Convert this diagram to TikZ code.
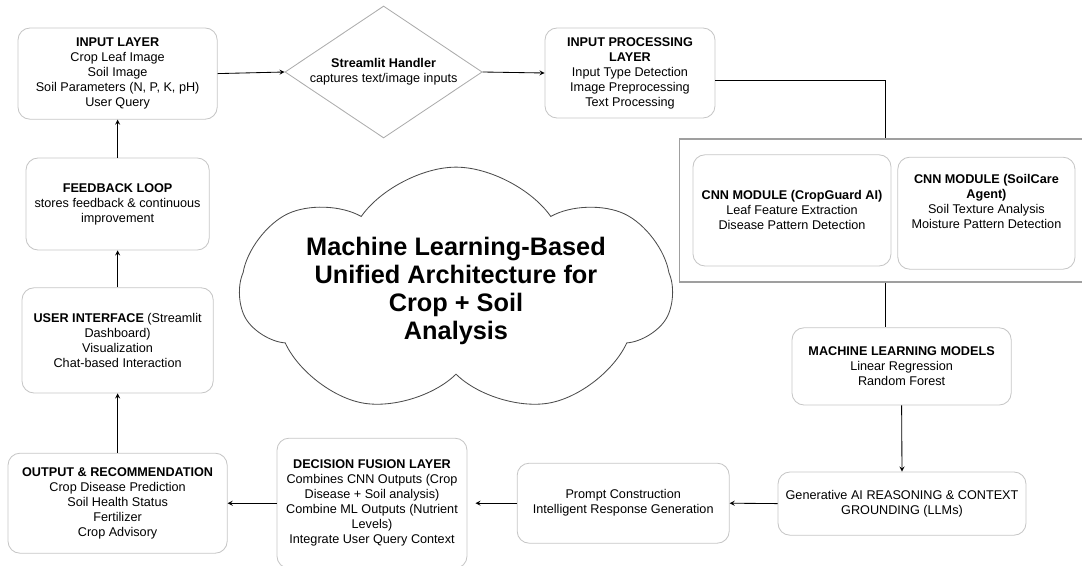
\documentclass[tikz,border=0pt]{standalone}
\usepackage{fontspec}
\setmainfont{Liberation Sans}
\usetikzlibrary{shapes.geometric, shapes.symbols}

\begin{document}
\begin{tikzpicture}[
  box/.style={draw=gray!45, line width=0.6pt, rounded corners=0.3cm, align=center, inner sep=2pt, font=\fontsize{9}{10.7}\selectfont},
  flow/.style={->, >=stealth, line width=0.6pt},
  link/.style={line width=0.6pt}
]

\useasboundingbox (0,0) rectangle (27.05,-14.15);

% left column and input side
\node[box, minimum width=4.98cm, minimum height=2.28cm] (input) at (2.94,-1.84) {\textbf{INPUT LAYER}\\Crop Leaf Image\\Soil Image\\Soil Parameters (N, P, K, pH)\\User Query};
\node[box, minimum width=4.58cm, minimum height=2.3cm] (feedback) at (2.94,-5.1) {\textbf{FEEDBACK LOOP}\\stores feedback \& continuous\\improvement};
\node[box, minimum width=4.78cm, minimum height=2.63cm] (ui) at (2.94,-8.51) {\textbf{USER INTERFACE} (Streamlit\\Dashboard)\\Visualization\\Chat-based Interaction};
\node[box, minimum width=5.48cm, minimum height=2.5cm] (output) at (2.94,-12.58) {\textbf{OUTPUT \& RECOMMENDATION}\\Crop Disease Prediction\\Soil Health Status\\Fertilizer\\Crop Advisory};

\node[diamond, aspect=1.5, draw=gray!65, line width=0.6pt, align=center, inner sep=0pt, minimum width=4.93cm, minimum height=3.3cm, font=\fontsize{9}{10.7}\selectfont] (handler) at (9.59,-1.8) {\textbf{Streamlit Handler}\\captures text/image inputs};
\node[box, minimum width=4.25cm, minimum height=2.25cm] (inproc) at (15.75,-1.825) {\textbf{INPUT PROCESSING}\\\textbf{LAYER}\\Input Type Detection\\Image Preprocessing\\Text Processing};

% the two cnn modules sit in one frame
\node[draw=gray!75, line width=0.9pt, minimum width=10.32cm, minimum height=3.575cm] (cnnframe) at (22.14,-5.26) {};
\node[box, minimum width=4.95cm, minimum height=2.78cm] (cnncrop) at (19.8,-5.26) {\textbf{CNN MODULE (CropGuard AI)}\\Leaf Feature Extraction\\Disease Pattern Detection};
\node[box, minimum width=4.43cm, minimum height=2.8cm] (cnnsoil) at (24.66,-5.33) {\textbf{CNN MODULE (SoilCare}\\\textbf{Agent)}\\Soil Texture Analysis\\Moisture Pattern Detection\\[0.2cm]};

\node[box, minimum width=5.48cm, minimum height=1.93cm] (ml) at (22.54,-9.16) {\textbf{MACHINE LEARNING MODELS}\\Linear Regression\\Random Forest};
\node[box, minimum width=6.2cm, minimum height=1.58cm] (gen) at (22.55,-12.59) {Generative AI REASONING \& CONTEXT\\GROUNDING (LLMs)};
\node[box, minimum width=5.3cm, minimum height=2cm] (prompt) at (15.58,-12.58) {Prompt Construction\\Intelligent Response Generation};
\node[box, minimum width=4.75cm, minimum height=3.25cm] (fusion) at (9.3,-12.58) {\textbf{DECISION FUSION LAYER}\\Combines CNN Outputs (Crop\\Disease + Soil analysis)\\Combine ML Outputs (Nutrient\\Levels)\\Integrate User Query Context};

% title in the middle
\node[cloud, draw=gray!60!black, line width=0.6pt, cloud puffs=7, cloud puff arc=110, cloud ignores aspect, minimum width=10.55cm, minimum height=5.45cm, align=center, font=\fontsize{18}{20}\selectfont\bfseries] (title) at (11.4,-7.28) {Machine Learning-Based\\Unified Architecture for\\Crop + Soil\\Analysis};

% connectors
\draw[flow] (input.east) -- (handler.west);
\draw[flow] (handler.east) -- (inproc.west);
\draw[link] ([yshift=-0.18cm]inproc.east) -| (cnnframe.north);
\draw[link] (cnnframe.south) -- (cnnframe.south |- ml.north);
\draw[flow] (ml.south) -- (gen.north);
\draw[flow] (gen.west) -- (prompt.east);
\draw[flow, shorten >=0.2cm] (prompt.west) -- (fusion.east);
\draw[flow] (fusion.west) -- (output.east);
\draw[flow] (output.north) -- (ui.south);
\draw[flow] (ui.north) -- (feedback.south);
\draw[flow] (feedback.north) -- (input.south);

\end{tikzpicture}
\end{document}
